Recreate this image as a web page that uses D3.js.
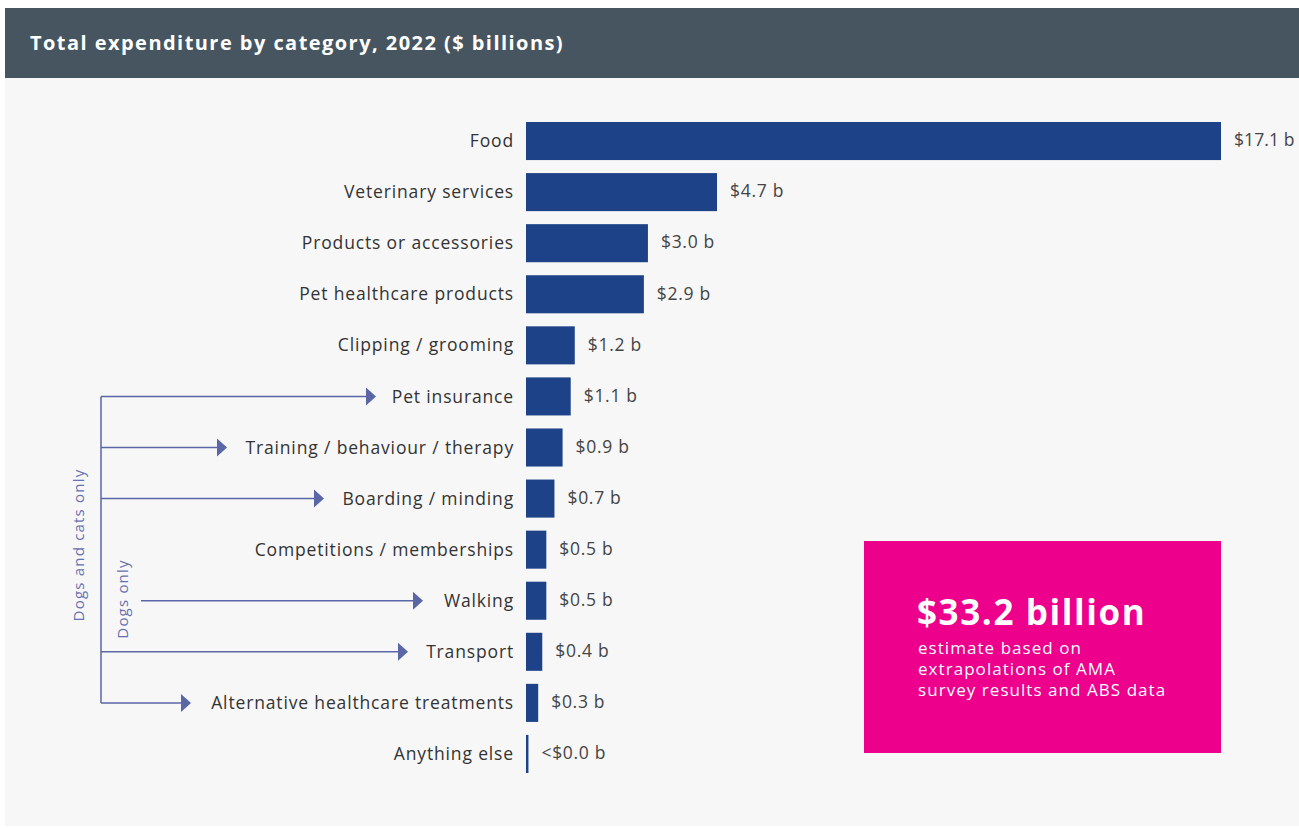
<!DOCTYPE html>
<html><head><meta charset="utf-8">
<script src="https://cdn.jsdelivr.net/npm/d3@7"></script>
<style>
html,body{margin:0;padding:0;background:#fff;}
svg{display:block;font-family:"Open Sans","DejaVu Sans",sans-serif;}
</style></head>
<body><svg id="chart" width="1299" height="828"></svg>
<script>
const categories = ["Food","Veterinary services","Products or accessories","Pet healthcare products","Clipping / grooming","Pet insurance","Training / behaviour / therapy","Boarding / minding","Competitions / memberships","Walking","Transport","Alternative healthcare treatments","Anything else"];
const values = [17.1,4.7,3.0,2.9,1.2,1.1,0.9,0.7,0.5,0.5,0.4,0.3,0.06];
const valueLabels = ["$17.1 b","$4.7 b","$3.0 b","$2.9 b","$1.2 b","$1.1 b","$0.9 b","$0.7 b","$0.5 b","$0.5 b","$0.4 b","$0.3 b","<$0.0 b"];
const title = "Total expenditure by category, 2022 ($ billions)";
const totalHeadline = "$33.2 billion";
const totalNote = ["estimate based on","extrapolations of AMA","survey results and ABS data"];
// annotation groups: categories pointed to by arrows
const dogsAndCats = ["Pet insurance","Training / behaviour / therapy","Boarding / minding","Transport","Alternative healthcare treatments"];
const dogsOnly = ["Walking"];

const svg = d3.select("#chart");
const W = 1299, H = 828;
svg.append("rect").attr("x",5).attr("y",78).attr("width",W-5).attr("height",748).attr("fill","#f7f7f7");
svg.append("rect").attr("x",5).attr("y",8).attr("width",W-5).attr("height",70).attr("fill","#465560");
svg.append("text").attr("x",30).attr("y",50).attr("fill","#fff").attr("font-size",20).attr("font-weight",700)
  .attr("letter-spacing",1.45).text(title);

const x = d3.scaleLinear().domain([0,17.1]).range([526,1221]);
const y = d3.scaleBand().domain(categories).range([115.5,779.5]).paddingInner(0.255).paddingOuter(0.1275);

const rows = categories.map((c,i)=>({c, v: values[i], l: valueLabels[i]}));
const g = svg.append("g");
g.selectAll("rect.bar").data(rows).join("rect").attr("class","bar")
  .attr("x",x(0)).attr("y",d=>y(d.c)).attr("width",d=>x(d.v)-x(0)).attr("height",y.bandwidth()).attr("fill","#1d4287");
g.selectAll("text.cat").data(rows).join("text").attr("class","cat")
  .attr("x",514).attr("y",d=>y(d.c)+y.bandwidth()/2).attr("dy","0.35em").attr("text-anchor","end")
  .attr("font-size",17.5).attr("letter-spacing",0.85).attr("fill","#333").text(d=>d.c);
g.selectAll("text.val").data(rows).join("text").attr("class","val")
  .attr("x",d=>x(d.v)+13).attr("y",d=>y(d.c)+y.bandwidth()/2).attr("dy","0.3em")
  .attr("font-size",17.5).attr("letter-spacing",d=>d.v>10?0.1:0.7).attr("fill","#444").text(d=>d.l);

// annotations
const lineC = "#5a66a6";
const a = svg.append("g");
const cy = c => y(c)+y.bandwidth()/2;
const arrowEnd = {"Pet insurance":376,"Training / behaviour / therapy":227,"Boarding / minding":324,"Transport":408,"Alternative healthcare treatments":191,"Walking":423};
const trunkX = 101;
a.append("line").attr("x1",trunkX).attr("x2",trunkX).attr("y1",cy(dogsAndCats[0])).attr("y2",cy(dogsAndCats[dogsAndCats.length-1])).attr("stroke",lineC).attr("stroke-width",1.5);
function arrow(x0,c){
  const yy = cy(c), xe = arrowEnd[c];
  a.append("line").attr("x1",x0).attr("x2",xe-8).attr("y1",yy).attr("y2",yy).attr("stroke",lineC).attr("stroke-width",1.5);
  a.append("path").attr("d",`M${xe-10},${yy-9}L${xe},${yy}L${xe-10},${yy+9}Z`).attr("fill",lineC);
}
dogsAndCats.forEach(c=>arrow(trunkX,c));
dogsOnly.forEach(c=>arrow(141,c));
a.append("text").attr("transform","translate(84,545) rotate(-90)").attr("text-anchor","middle").attr("font-size",15).attr("letter-spacing",1.2).attr("fill","#6670b0").text("Dogs and cats only");
a.append("text").attr("transform","translate(128,599) rotate(-90)").attr("text-anchor","middle").attr("font-size",15).attr("letter-spacing",1.2).attr("fill","#6670b0").text("Dogs only");

// total box
svg.append("rect").attr("x",864).attr("y",541).attr("width",357).attr("height",212).attr("fill","#ec008c");
svg.append("text").attr("x",917).attr("y",625).attr("fill","#fff").attr("font-size",35).attr("font-weight",700).attr("letter-spacing",1.6).text(totalHeadline);
svg.append("g").selectAll("text").data(totalNote).join("text").attr("x",918).attr("y",(d,i)=>654+i*21).attr("fill","#fff").attr("font-size",17).attr("letter-spacing",1.05).text(d=>d);
</script></body></html>
